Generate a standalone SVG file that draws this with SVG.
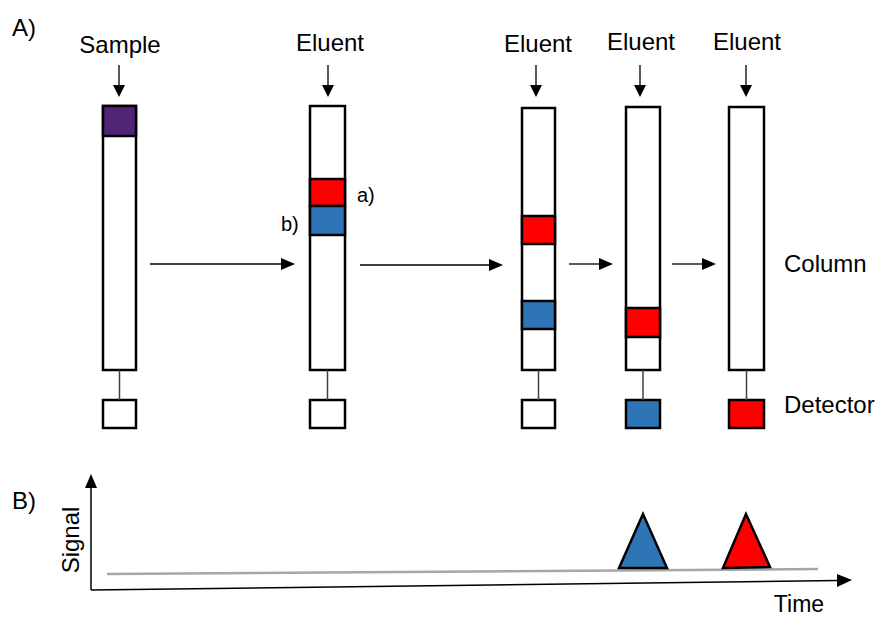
<svg xmlns="http://www.w3.org/2000/svg" width="881" height="617" viewBox="0 0 881 617">
<style>
text{font-family:"Liberation Sans",Arial,sans-serif;fill:#000}
.lbl{font-size:24px}
.col{fill:#fff;stroke:#000;stroke-width:2.5}
.red{fill:#ff0000;stroke:#000;stroke-width:2.5}
.blue{fill:#2e75b6;stroke:#000;stroke-width:2.5}
.pur{fill:#512475;stroke:#000;stroke-width:2.5}
.link{stroke:#404040;stroke-width:1.5}
.arr{stroke:#000;stroke-width:1.3;fill:none}
.head{fill:#000}
</style>
<rect width="881" height="617" fill="#fff"/>
<text x="12" y="36" class="lbl">A)</text>
<text x="12" y="509" class="lbl">B)</text>

<g id="col1">
<text x="120" y="53" class="lbl" text-anchor="middle">Sample</text>
<rect x="103" y="106" width="33" height="264" class="col"/>
<rect x="103" y="106" width="33" height="30" class="pur"/>
<rect x="103" y="400" width="33" height="28" class="col"/>
</g>
<g id="col2">
<text x="330" y="51" class="lbl" text-anchor="middle">Eluent</text>
<rect x="310" y="106" width="35" height="264" class="col"/>
<rect x="310" y="179" width="35" height="27" class="red"/>
<rect x="310" y="206" width="35" height="29" class="blue"/>
<text x="357" y="202" font-size="20">a)</text>
<text x="281" y="231" font-size="20">b)</text>
<rect x="310" y="400" width="35" height="28" class="col"/>
</g>
<g id="col3">
<text x="538" y="52" class="lbl" text-anchor="middle">Eluent</text>
<rect x="522" y="108" width="33" height="262" class="col"/>
<rect x="522" y="216" width="33" height="28" class="red"/>
<rect x="522" y="301" width="33" height="28" class="blue"/>
<rect x="522" y="400" width="33" height="28" class="col"/>
</g>
<g id="col4">
<text x="641" y="50" class="lbl" text-anchor="middle">Eluent</text>
<rect x="626" y="107" width="34" height="263" class="col"/>
<rect x="626" y="308" width="34" height="29" class="red"/>
<rect x="626" y="400" width="34" height="28" class="blue"/>
</g>
<g id="col5">
<text x="747" y="50" class="lbl" text-anchor="middle">Eluent</text>
<rect x="729" y="107" width="35" height="263" class="col"/>
<rect x="729" y="400" width="35" height="28" class="red"/>
</g>
<text x="784" y="272" class="lbl">Column</text>
<text x="784" y="413" class="lbl">Detector</text>

<g id="connectors">
<line x1="119.5" y1="370" x2="119.5" y2="400" class="link"/>
<line x1="327.5" y1="370" x2="327.5" y2="400" class="link"/>
<line x1="538.5" y1="370" x2="538.5" y2="400" class="link"/>
<line x1="643" y1="370" x2="643" y2="400" class="link"/>
<line x1="746.5" y1="370" x2="746.5" y2="400" class="link"/>
<line x1="119" y1="65" x2="119" y2="86" class="arr"/><polygon points="113,85 125,85 119,97" class="head"/>
<line x1="328" y1="65" x2="328" y2="86" class="arr"/><polygon points="322,85 334,85 328,97" class="head"/>
<line x1="536" y1="65" x2="536" y2="86" class="arr"/><polygon points="530,85 542,85 536,97" class="head"/>
<line x1="640" y1="65" x2="640" y2="86" class="arr"/><polygon points="634,85 646,85 640,97" class="head"/>
<line x1="746" y1="65" x2="746" y2="86" class="arr"/><polygon points="740,85 752,85 746,97" class="head"/>
<line x1="150" y1="264" x2="282" y2="264" class="arr"/><polygon points="281,258 281,270 295,264" class="head"/>
<line x1="360" y1="265" x2="490" y2="265" class="arr"/><polygon points="489,259 489,271 503,265" class="head"/>
<line x1="569" y1="264" x2="600" y2="264" class="arr"/><polygon points="599,258 599,270 613,264" class="head"/>
<line x1="672" y1="264" x2="703" y2="264" class="arr"/><polygon points="702,258 702,270 716,264" class="head"/>
</g>

<g id="chart">
<line x1="91" y1="590" x2="91" y2="487" stroke="#000" stroke-width="1.5"/>
<polygon points="85,488 97,488 91,474" class="head"/>
<line x1="91" y1="590" x2="838" y2="580.5" stroke="#000" stroke-width="1.5"/>
<polygon points="837,574 837,587 852,580" class="head"/>
<line x1="107" y1="574" x2="818" y2="569" stroke="#a6a6a6" stroke-width="2.5"/>
<polygon points="643,514 619,568 667,568" class="blue"/>
<polygon points="746,514 723,568 770,567" class="red"/>
<text transform="translate(79,540) rotate(-90)" class="lbl" text-anchor="middle">Signal</text>
<text x="799" y="612" font-size="23" text-anchor="middle">Time</text>
</g>
</svg>
